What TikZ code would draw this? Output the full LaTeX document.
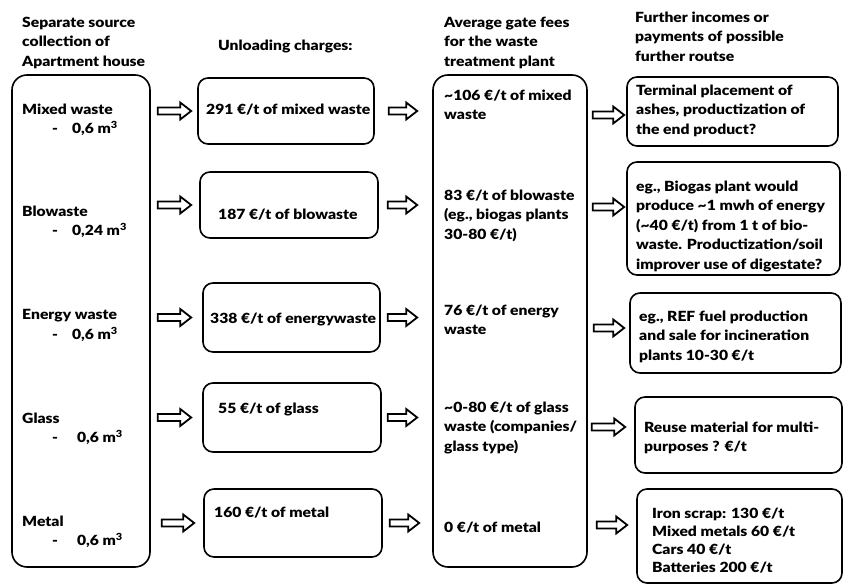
\documentclass[tikz,border=0pt]{standalone}
\usepackage{fontspec}
\setmainfont{Lato}[BoldFont = {Lato Black}, BoldFeatures = {FakeStretch = 1.12}]
\usetikzlibrary{calc}
\tikzstyle{bigbox}=[draw, line width = 1.6pt, rounded corners = 15pt, inner sep = 0pt]
\tikzstyle{box}=[draw, line width = 1.6pt, rounded corners = 10pt, inner sep = 0pt]
\tikzstyle{txt}=[anchor = north west, align = left, inner sep = 0pt, font = \fontsize{14}{19.5}\selectfont\bfseries]
\tikzset{fat/.style 2 args = {line width = 1.8pt, line join = miter,
  to path = {let \p1 = (\tikztostart), \p2 = (\tikztotarget) in
  (\x1+#1, \y2+3.5pt) -- (\x2-#2-11pt, \y2+3.5pt) -- (\x2-#2-11pt, \y2+8.5pt) -- (\x2-#2, \y2)
  -- (\x2-#2-11pt, \y2-8.5pt) -- (\x2-#2-11pt, \y2-3.5pt) -- (\x1+#1, \y2-3.5pt) -- cycle}}}
\newcommand{\cube}{m\textsuperscript{3}}
\begin{document}
\begin{tikzpicture}[x = 1pt, y = 1pt]
\useasboundingbox (0,0) rectangle (844,586);
%%%%%%%%%%%%%%%%%%%%%%% boxes
\node (lbox) at (81,265) [bigbox, minimum width = 138pt, minimum height = 492pt] {};
\node (u1) at (286,475) [box, minimum width = 176pt, minimum height = 66pt] {};
\node (u2) at (289,381) [box, minimum width = 178pt, minimum height = 66pt] {};
\node (u3) at (291.5,268.5) [box, minimum width = 177pt, minimum height = 69pt] {};
\node (u4) at (292,168.5) [box, minimum width = 178pt, minimum height = 69pt] {};
\node (u5) at (293,63) [box, minimum width = 178pt, minimum height = 68pt] {};
\node (gbox) at (510,265) [bigbox, minimum width = 154pt, minimum height = 492pt] {};
\node (f1) at (732.5,474.5) [box, minimum width = 211pt, minimum height = 69pt] {};
\node (f2) at (733.5,367.5) [box, minimum width = 213pt, minimum height = 113pt] {};
\node (f3) at (735.5,253) [box, minimum width = 211pt, minimum height = 80pt] {};
\node (f4) at (738.5,151) [box, minimum width = 207pt, minimum height = 76pt] {};
\node (f5) at (739.5,50) [box, minimum width = 205pt, minimum height = 94pt] {};
%%%%%%%%%%%%%%%%%%%%%%% headings
\node (src) at (22,569.5) [txt] {Separate source\\collection of\\Apartment house};
\node (unl) at (218,546.5) [txt] {Unloading charges:};
\node (gate) at (444,569.5) [txt] {Average gate fees\\for the waste\\treatment plant};
\node (fur) at (635,574.5) [txt] {Further incomes or\\payments of possible\\further routse};
%%%%%%%%%%%%%%%%%%%%%%% source collection
\node (lmix) at (22,482.5) [txt] {Mixed waste\\\hspace*{30pt}-\hspace{14pt}0,6 \cube};
\node (lbio) at (22,380.5) [txt] {Blowaste\\\hspace*{30pt}-\hspace{14pt}0,24 \cube};
\node (lene) at (22,276.5) [txt] {Energy waste\\\hspace*{30pt}-\hspace{14pt}0,6 \cube};
\node (lgla) at (22,173.5) [txt] {Glass\\\hspace*{30pt}-\hspace{19pt}0,6 \cube};
\node (lmet) at (22,70.5) [txt] {Metal\\\hspace*{30pt}-\hspace{19pt}0,6 \cube};
%%%%%%%%%%%%%%%%%%%%%%% unloading charges
\node (umix) at (206,482.5) [txt] {291 €/t of mixed waste};
\node (ubio) at (218,377.5) [txt] {187 €/t of blowaste};
\node (uene) at (210,273.5) [txt] {338 €/t of energywaste};
\node (ugla) at (218,183.5) [txt] {55 €/t of glass};
\node (umet) at (214,79.5) [txt] {160 €/t of metal};
%%%%%%%%%%%%%%%%%%%%%%% gate fees
\node (gmix) at (444,496.5) [txt] {\textasciitilde106 €/t of mixed\\waste};
\node (gbio) at (444,396.5) [txt] {83 €/t of blowaste\\(eg., biogas plants\\30-80 €/t)};
\node (gene) at (444,281.5) [txt] {76 €/t of energy\\waste};
\node (ggla) at (444,184.5) [txt] {\textasciitilde0-80 €/t of glass\\waste (companies/\\glass type)};
\node (gmet) at (444,64.5) [txt] {0 €/t of metal};
%%%%%%%%%%%%%%%%%%%%%%% further routes
\node (fmix) at (636,501.5) [txt] {Terminal placement of\\ashes, productization of\\the end product?};
\node (fbio) at (636,405.5) [txt] {eg., Biogas plant would\\produce \textasciitilde1 mwh of energy\\(\textasciitilde40 €/t) from 1 t of bio-\\waste. Productization/soil\\improver use of digestate?};
\node (fene) at (639,275.5) [txt] {eg., REF fuel production\\and sale for incineration\\plants 10-30 €/t};
\node (fgla) at (644,164.5) [txt] {Reuse material for multi-\\purposes ? €/t};
\node (fmet) at (652,78.5) [txt, font = \fontsize{14}{18}\selectfont\bfseries] {Iron scrap: 130 €/t\\Mixed metals 60 €/t\\Cars 40 €/t\\Batteries 200 €/t};
%%%%%%%%%%%%%%%%%%%%%%% arrows
\draw [fat = {7pt}{6pt}] (lbox.east) to (u1.west);
\draw [fat = {7pt}{8pt}] (lbox.east) to (u2.west);
\draw [fat = {7pt}{11pt}] (lbox.east) to (u3.west);
\draw [fat = {7pt}{11pt}] (lbox.east) to (u4.west);
\draw [fat = {11pt}{9pt}] (lbox.east) to (u5.west);
\draw [fat = {14pt}{15pt}] (u1.east) to (gbox.west |- u1.east);
\draw [fat = {9pt}{15pt}] (u2.east) to (gbox.west |- u2.east);
\draw [fat = {7pt}{15pt}] (u3.east) to (gbox.west |- u3.east);
\draw [fat = {6pt}{15pt}] (u4.east) to (gbox.west |- u4.east);
\draw [fat = {7pt}{13pt}] (u5.east) to (gbox.west |- u5.east);
\draw [fat = {5pt}{2pt}] (gbox.east) to ([yshift = -3.5pt]f1.west);
\draw [fat = {5pt}{2pt}] (gbox.east) to ([yshift = 11.5pt]f2.west);
\draw [fat = {6pt}{5pt}] (gbox.east) to ([yshift = 5pt]f3.west);
\draw [fat = {4pt}{9pt}] (gbox.east) to ([yshift = 8pt]f4.west);
\draw [fat = {9pt}{9pt}] (gbox.east) to ([yshift = 11pt]f5.west);
\end{tikzpicture}
\end{document}
